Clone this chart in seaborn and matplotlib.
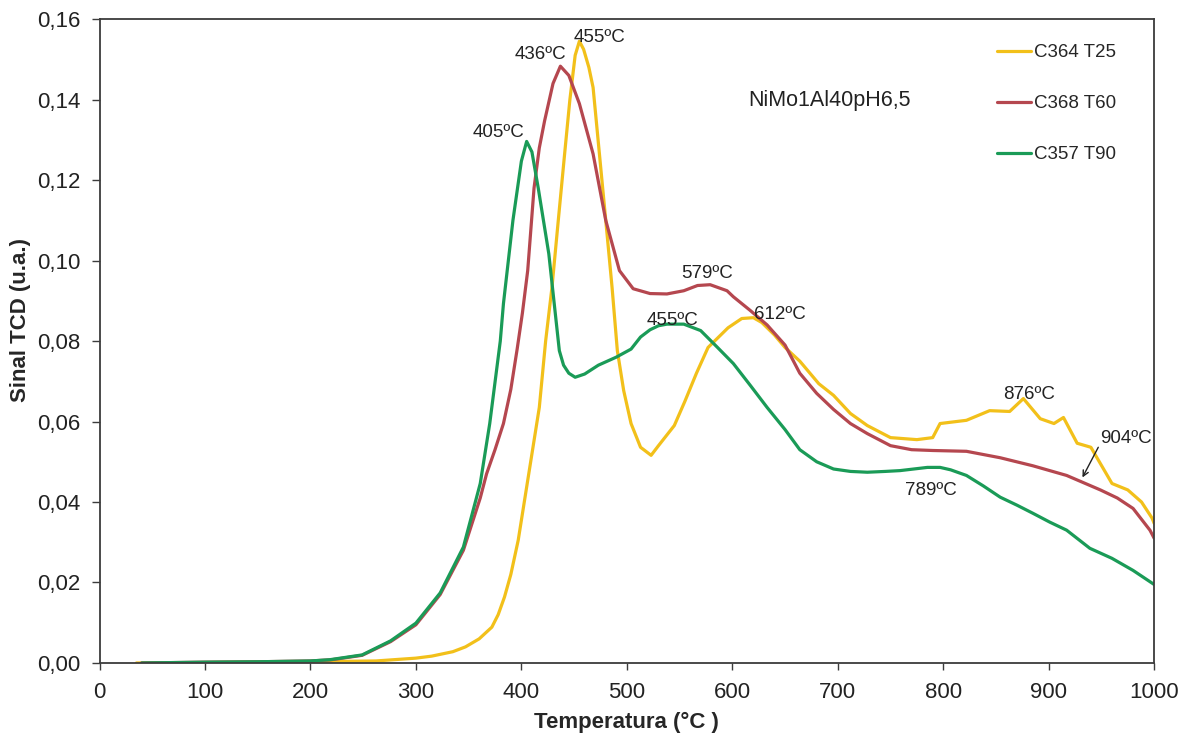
import matplotlib
matplotlib.use("Agg")
import matplotlib.pyplot as plt
from matplotlib.ticker import FuncFormatter, MultipleLocator
import seaborn as sns
import pandas as pd

# TPR profiles: temperature (°C) and TCD signal (a.u.)
temp_t25 = [35, 100, 150, 200, 230, 262, 300, 315, 335, 347, 360, 372, 378, 384, 390,
            397, 407, 417, 423, 429, 435, 441, 446, 451, 455, 459, 464, 468, 474, 480,
            486, 491, 497, 504, 513, 523, 530, 545, 555, 566, 577, 596, 609, 620, 628,
            640, 650, 664, 682, 696, 712, 728, 750, 775, 790, 797, 822, 844, 863, 876,
            892, 905, 914, 927, 940, 960, 975, 988, 998, 1000]
sinal_t25 = [0.0000, 0.0001, 0.0002, 0.0003, 0.0004, 0.0005, 0.0012, 0.0017, 0.0028, 0.0040,
             0.0060, 0.0089, 0.0120, 0.0164, 0.0220, 0.0305, 0.0470, 0.0635, 0.0800, 0.0933,
             0.1100, 0.1265, 0.1400, 0.1510, 0.1545, 0.1525, 0.1480, 0.1430, 0.1265, 0.1100,
             0.0933, 0.0776, 0.0677, 0.0595, 0.0536, 0.0516, 0.0540, 0.0590, 0.0650, 0.0720,
             0.0784, 0.0833, 0.0856, 0.0858, 0.0846, 0.0815, 0.0784, 0.0750, 0.0694, 0.0665,
             0.0620, 0.0590, 0.0560, 0.0555, 0.0560, 0.0595, 0.0603, 0.0627, 0.0625, 0.0657,
             0.0607, 0.0595, 0.0610, 0.0546, 0.0536, 0.0446, 0.0430, 0.0400, 0.0360, 0.0347]

temp_t60 = [40, 100, 150, 200, 220, 249, 276, 300, 323, 345, 361, 367, 375, 383, 390,
            396, 401, 406, 412, 417, 422, 430, 437, 445, 455, 468, 480, 493, 506, 522,
            538, 554, 567, 579, 595, 601, 617, 633, 650, 664, 680, 696, 712, 728, 750,
            770, 790, 822, 854, 885, 917, 949, 965, 980, 996, 1000]
sinal_t60 = [0.0000, 0.0002, 0.0003, 0.0005, 0.0008, 0.0019, 0.0053, 0.0095, 0.0170, 0.0280,
             0.0410, 0.0470, 0.0530, 0.0595, 0.0680, 0.0780, 0.0870, 0.0975, 0.1180, 0.1280,
             0.1347, 0.1440, 0.1483, 0.1460, 0.1390, 0.1265, 0.1100, 0.0975, 0.0930, 0.0918,
             0.0917, 0.0925, 0.0938, 0.0940, 0.0925, 0.0910, 0.0876, 0.0840, 0.0790, 0.0720,
             0.0670, 0.0630, 0.0595, 0.0570, 0.0540, 0.0530, 0.0528, 0.0526, 0.0510, 0.0490,
             0.0466, 0.0430, 0.0410, 0.0384, 0.0330, 0.0310]

temp_t90 = [40, 100, 150, 200, 218, 249, 276, 300, 323, 345, 361, 370, 380, 383, 392,
            400, 405, 410, 416, 426, 436, 440, 445, 451, 460, 473, 490, 504, 513, 522,
            530, 538, 554, 570, 586, 601, 617, 633, 650, 664, 680, 696, 712, 728, 745,
            759, 772, 785, 797, 807, 822, 838, 854, 870, 885, 901, 917, 939, 960, 980,
            1000]
sinal_t90 = [0.0000, 0.0002, 0.0003, 0.0005, 0.0008, 0.0020, 0.0055, 0.0099, 0.0174, 0.0288,
             0.0446, 0.0595, 0.0800, 0.0893, 0.1100, 0.1247, 0.1296, 0.1270, 0.1180, 0.1017,
             0.0776, 0.0740, 0.0720, 0.0710, 0.0718, 0.0740, 0.0760, 0.0780, 0.0810, 0.0828,
             0.0838, 0.0842, 0.0842, 0.0826, 0.0784, 0.0744, 0.0690, 0.0635, 0.0580, 0.0530,
             0.0500, 0.0482, 0.0476, 0.0474, 0.0476, 0.0478, 0.0482, 0.0486, 0.0486, 0.0480,
             0.0466, 0.0440, 0.0412, 0.0392, 0.0372, 0.0350, 0.0330, 0.0285, 0.0260, 0.0230,
             0.0195]

series_names = ["C364 T25", "C368 T60", "C357 T90"]
series_colors = ["#F2C01A", "#B5474F", "#1A9B57"]

# peak labels: (text, x, y)
peak_labels = [
    ("455ºC", 474, 0.1555),
    ("436ºC", 418, 0.1513),
    ("405ºC", 378, 0.1317),
    ("579ºC", 576, 0.0967),
    ("612ºC", 645, 0.0866),
    ("455ºC", 543, 0.0851),
    ("876ºC", 881, 0.0667),
    ("904ºC", 973, 0.0558),
    ("789ºC", 788, 0.0429),
]
arrow_tail = (947, 0.0536)
arrow_head = (932, 0.0461)

frames = []
for name, t, s in zip(series_names, [temp_t25, temp_t60, temp_t90],
                      [sinal_t25, sinal_t60, sinal_t90]):
    frames.append(pd.DataFrame({"Temperatura": t, "Sinal": s, "Amostra": name}))
df = pd.concat(frames, ignore_index=True)

sns.set_style("white")
plt.rcParams["font.family"] = ["Liberation Sans", "DejaVu Sans"]

fig = plt.figure(figsize=(11.89, 7.35), dpi=100)
ax = fig.add_axes([0.0837, 0.098, 0.8870, 0.876])

sns.lineplot(data=df, x="Temperatura", y="Sinal", hue="Amostra",
             palette=dict(zip(series_names, series_colors)),
             estimator=None, sort=False, linewidth=2.3, ax=ax)

ax.set_xlim(0, 1000)
ax.set_ylim(0, 0.16)
ax.xaxis.set_major_locator(MultipleLocator(100))
ax.yaxis.set_major_locator(MultipleLocator(0.02))
ax.yaxis.set_major_formatter(FuncFormatter(lambda v, p: f"{v:.2f}".replace(".", ",")))

for side in ["left", "bottom", "top", "right"]:
    ax.spines[side].set_visible(True)
    ax.spines[side].set_color("#3c3c3c")
    ax.spines[side].set_linewidth(1.3)

ax.tick_params(axis="both", which="major", direction="out", width=1,
               color="#3c3c3c", labelsize=16, labelcolor="#222222",
               bottom=True, left=True, top=False, right=False)
ax.tick_params(axis="x", length=5, pad=9)
ax.tick_params(axis="y", length=6, pad=8)

ax.set_xlabel("Temperatura (°C )", fontsize=16, fontweight="bold", labelpad=6)
ax.set_ylabel("Sinal TCD (u.a.)", fontsize=16, fontweight="bold")
ax.yaxis.set_label_coords(-0.065, 0.533)

for txt, x, y in peak_labels:
    ax.text(x, y, txt, fontsize=13.5, ha="center", va="center", color="#222222")

ax.annotate("", xy=arrow_head, xytext=arrow_tail,
            arrowprops=dict(arrowstyle="->", color="#222222", lw=1.0,
                            shrinkA=0, shrinkB=0))

ax.text(0.692, 0.874, "NiMo1Al40pH6,5", transform=ax.transAxes, fontsize=15.5,
        ha="center", va="center", color="#222222")

handles, labels = ax.get_legend_handles_labels()
ax.legend(handles, labels, loc="upper left", bbox_to_anchor=(0.851, 0.961),
          frameon=False, fontsize=13.5, handlelength=1.8, handletextpad=0.15,
          labelspacing=1.8, borderpad=0, borderaxespad=0)

fig.savefig("out.png", dpi=100)
